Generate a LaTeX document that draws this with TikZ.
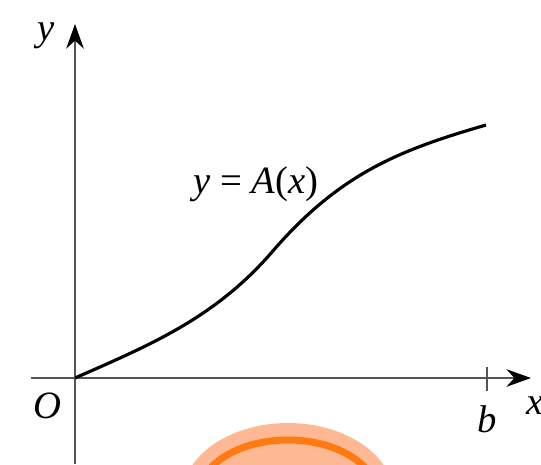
\documentclass[tikz,border=0pt]{standalone}
\usepackage{fontspec}
\setmainfont{Liberation Serif}
\usepackage{tikz}
\usetikzlibrary{arrows.meta,positioning,calc}

\definecolor{blobfill}{HTML}{FFB894}
\definecolor{blobline}{HTML}{FF7A12}
\definecolor{axisgray}{HTML}{555555}

\tikzset{
	axis/.style={draw=axisgray, line width=1.2pt, -{Stealth[length=14pt,width=10pt,color=black]}},
	lbl/.style={font=\fontsize{22}{26}\selectfont\itshape, inner sep=0pt},
	curve/.style={line width=1.8pt, black}
}

\begin{document}
\begin{tikzpicture}[x=0.02cm, y=-0.02cm]
	\useasboundingbox (0,0) rectangle (541,464);
	% orange mark below the axis
	\fill[blobfill] (288,497) ellipse (106 and 74);
	\draw[blobline, line width=4pt] (288,497) ellipse (90 and 57);
	\coordinate (O) at (75,378);
	\coordinate (xend) at (531,378);
	\coordinate (xstart) at (31,378);
	\coordinate (ybot) at (75,464);
	\coordinate (ytop) at (75,24);
	\coordinate (B) at (487,378);
	\coordinate (infl) at (272,252);
	\coordinate (cend) at (486,125);
	\draw[axis] (xstart) -- (xend);
	\draw[axis] (ybot) -- (ytop);
	\draw[axisgray, line width=1.2pt] ($(B)+(0,-11)$) -- ($(B)+(0,13)$);
	\draw[curve] (O) .. controls (150,345) and (215,318) .. (infl)
		.. controls (340,173) and (400,150) .. (cend);
	\node[lbl] (ylabel) at (46,36) {y};
	\node[lbl] (olabel) at (47,406) {O};
	\node[lbl] (blabel) at (487,419) {b};
	\node[lbl] (xlabel) at (535,406) {x};
	\node[lbl] (curvelabel) at (256,184) {y {\upshape =} A{\upshape (}x{\upshape )}};
\end{tikzpicture}
\end{document}
